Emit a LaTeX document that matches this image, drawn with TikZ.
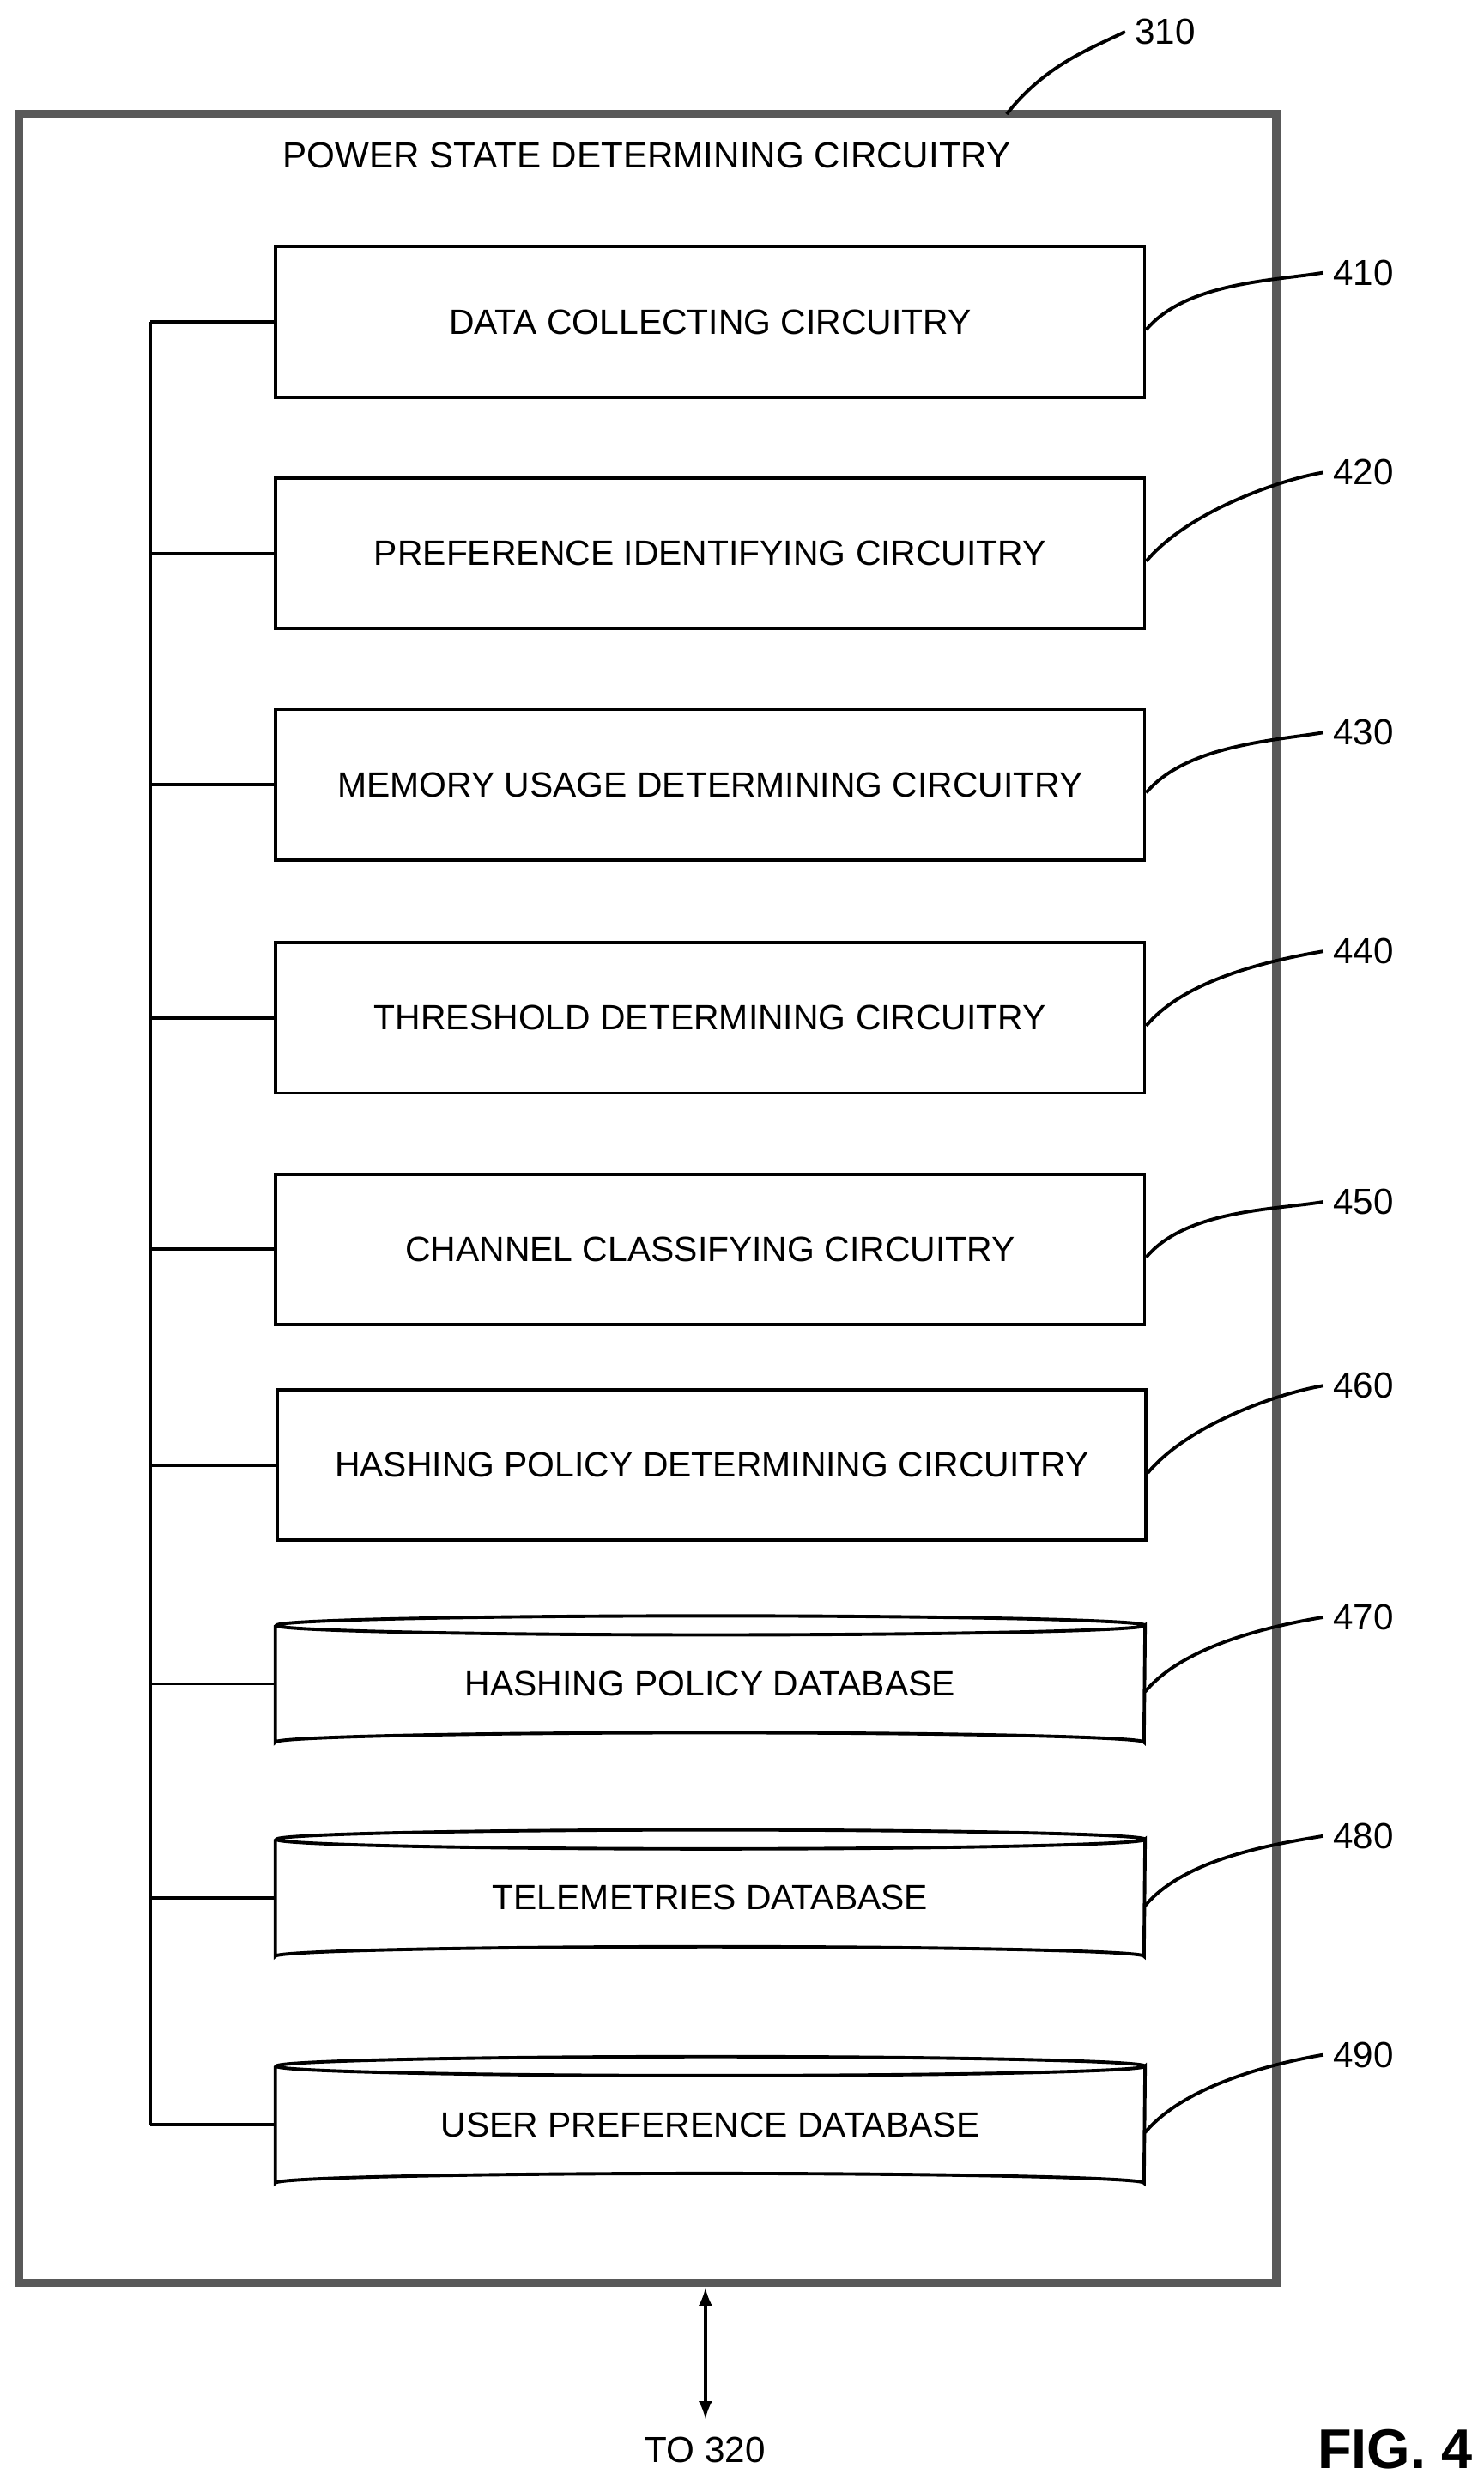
\documentclass[tikz,border=0pt]{standalone}
\usepackage{fontspec}
\setmainfont{Liberation Sans}
\usetikzlibrary{positioning}
\tikzset{
  blk/.style={draw, line width=1.2pt, minimum width=548*0.02cm, minimum height=95*0.02cm,
    inner xsep=0pt, font=\fontsize{12.6}{15}\selectfont},
  dbs/.style={minimum width=548*0.02cm, minimum height=85*0.02cm,
    inner xsep=0pt, font=\fontsize{12.6}{15}\selectfont},
  lbl/.style={font=\fontsize{13}{15}\selectfont},
  wire/.style={line width=1.2pt}
}
\begin{document}
\begin{tikzpicture}[x=0.02cm,y=-0.02cm,>=latex]
\useasboundingbox (0,0) rectangle (936,1568);
%outer box
\draw[line width=3pt,gray!70!black] (12,72) rectangle (805,1440);
\node[lbl] (title) at (408,98) {POWER STATE DETERMINING CIRCUITRY};
\node[lbl] (n310) at (735,20) {310};
\draw[wire] (635,72) .. controls (660,40) and (690,30) .. (n310.west);
%boxes
\node[blk] (dc) at (448,203) {DATA COLLECTING CIRCUITRY};
\node[blk] (pi) at (448,349) {PREFERENCE IDENTIFYING CIRCUITRY};
\node[blk] (mu) at (448,495) {MEMORY USAGE DETERMINING CIRCUITRY};
\node[blk] (td) at (448,642) {THRESHOLD DETERMINING CIRCUITRY};
\node[blk] (cc) at (448,788) {CHANNEL CLASSIFYING CIRCUITRY};
\node[blk] (hp) at (449,924) {HASHING POLICY DETERMINING CIRCUITRY};
%databases
\node[dbs] (hd) at (448,1062) {HASHING POLICY DATABASE};
\node[dbs] (tl) at (448,1197) {TELEMETRIES DATABASE};
\node[dbs] (ud) at (448,1340) {USER PREFERENCE DATABASE};
\foreach \d in {hd,tl,ud}
{
  \draw[wire] ([yshift=-0.12cm]\d.north west) -- ([yshift=0.12cm]\d.south west)
    arc[start angle=180, end angle=360, x radius=274, y radius=6]
    -- ([yshift=-0.12cm]\d.north east)
    arc[start angle=0, end angle=360, x radius=274, y radius=6];
}
%bus
\coordinate (btop) at (95,203);
\coordinate (bbot) at (95,1340);
\draw[wire] (btop) -- (bbot);
\foreach \b in {dc,pi,mu,td,cc,hp,hd,tl,ud}
{
  \draw[wire] (\b.west) -- (\b.west -| btop);
}
%reference numerals
\foreach \b/\t/\y in {dc/410/172,pi/420/298,mu/430/462,td/440/600,cc/450/758,hp/460/874,hd/470/1020,tl/480/1158,ud/490/1296}
{
  \node[lbl] (r\t) at (860,\y) {\t};
  \draw[wire] ([yshift=-0.1cm]\b.east) .. controls +(25,-30) and +(-30,5) .. (r\t.west);
}
%to 320
\node[lbl] (to) at (445,1545) {TO 320};
\coordinate (bout) at (445,1440);
\draw[wire,<->] ([yshift=-0.06cm]bout) -- ([yshift=0.1cm]to.north);
\node[font=\bfseries\fontsize{20}{22}\selectfont] (fig) at (880,1545) {FIG. 4};
\end{tikzpicture}
\end{document}
